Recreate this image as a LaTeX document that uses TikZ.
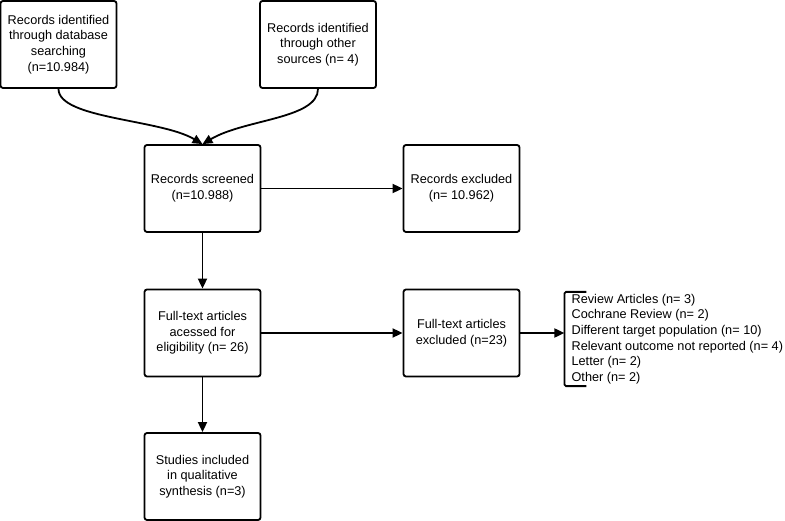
\documentclass[tikz,border=0pt]{standalone}
\usepackage{fontspec}
\setmainfont{Liberation Sans}
\usepackage{tikz}
\usetikzlibrary{positioning,arrows.meta}

\begin{document}
\begin{tikzpicture}[
  every node/.style={font=\fontsize{12.7}{15.6}\selectfont},
  boxes/.style={rectangle,draw,line width=1.8pt,rounded corners=2.5pt,align=center,minimum width=116pt,minimum height=87pt,inner sep=2pt,on grid},
  notes/.style={align=left,inner xsep=7pt,inner ysep=2pt},
  arr/.style={line width=1.8pt,-{Triangle[length=10pt,width=9pt]}},
]
\useasboundingbox (0pt,0pt) rectangle (785pt,-521pt);

\node (screened) [boxes] at (202.5pt,-188.5pt) {Records screened\\(n=10.988)};
\node (dbsearch) [boxes,above left=144pt and 144pt of screened] {Records identified\\through database\\searching\\(n=10.984)};
\node (othersrc) [boxes,above right=144pt and 115.5pt of screened] {Records identified\\through other\\sources (n= 4)};
\node (excluded) [boxes,right=259pt of screened] {Records excluded\\(n= 10.962)};
\node (fulltext) [boxes,below=144.5pt of screened] {Full-text articles\\acessed for\\eligibility (n= 26)};
\node (ftexcl) [boxes,right=259pt of fulltext] {Full-text articles\\excluded (n=23)};
\node (included) [boxes,below=143.5pt of fulltext] {Studies included\\in qualitative\\synthesis (n=3)};

\node (reasons) [notes,right=44pt of ftexcl,yshift=-6pt] {
Review Articles (n= 3)\\
Cochrane Review (n= 2)\\
Different target population (n= 10)\\
Relevant outcome not reported (n= 4)\\
Letter (n= 2)\\
Other (n= 2)};
\draw[line width=1.8pt,rounded corners=1.5pt]
  ([xshift=22pt]reasons.north west) -- (reasons.north west) -- (reasons.south west) -- ([xshift=22pt]reasons.south west);

\draw[arr] (dbsearch.south) .. controls +(0,-30pt) and +(-42pt,25pt) .. (screened.north);
\draw[arr] (othersrc.south) .. controls +(0,-30pt) and +(42pt,25pt) .. (screened.north);
\draw[arr] (screened) -- (excluded);
\draw[arr] (screened) -- (fulltext);
\draw[arr] (fulltext) -- (ftexcl);
\draw[arr] (fulltext) -- (included);
\draw[arr] (ftexcl.east) -- (ftexcl.east -| reasons.west);
\end{tikzpicture}
\end{document}
